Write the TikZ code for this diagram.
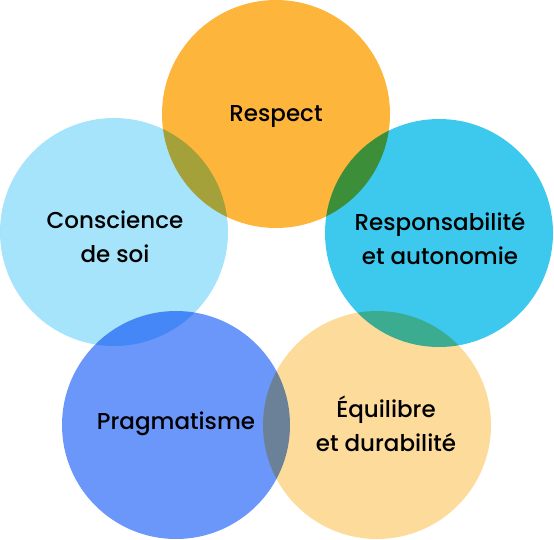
\documentclass[tikz,border=0pt]{standalone}
\usepackage{fontspec}
\setmainfont{Poppins Medium}
\usetikzlibrary{positioning}
\definecolor{respc}{HTML}{FDB53C}
\definecolor{autoc}{HTML}{3DC9EE}
\definecolor{equic}{HTML}{FDDB9B}
\definecolor{pragc}{HTML}{6B97FA}
\definecolor{consc}{HTML}{A6E4FB}
\tikzset{
  bulle/.style={circle,minimum size=228pt,inner sep=0pt,fill=#1},
  lbl/.style={align=center,font=\fontsize{23}{34}\selectfont,text=black}
}

\begin{document}
\begin{tikzpicture}[x=1pt,y=-1pt]
\useasboundingbox (0,0) rectangle (554,539);
% cercles, melange multiplicatif aux intersections
\begin{scope}[blend group=multiply]
\node[bulle=respc] (resp) at (276,114) {};
\node[bulle=autoc] (auto) at (439,233) {};
\node[bulle=equic] (equi) at (377,425) {};
\node[bulle=pragc] (prag) at (176,425) {};
\node[bulle=consc] (cons) at (114,232) {};
\end{scope}
% textes
\node[lbl] (respt) at ([yshift=-3pt]resp.center) {Respect};
\node[lbl] (autot) at ([xshift=1pt,yshift=-5pt]auto.center) {Responsabilité\\et autonomie};
\node[lbl] (equit) at ([xshift=9pt,yshift=1pt]equi.center) {Équilibre\\et durabilité};
\node[lbl] (pragt) at ([yshift=1pt]prag.center) {Pragmatisme};
\node[lbl] (const) at ([xshift=1pt,yshift=-5pt]cons.center) {Conscience\\de soi};
\end{tikzpicture}
\end{document}
